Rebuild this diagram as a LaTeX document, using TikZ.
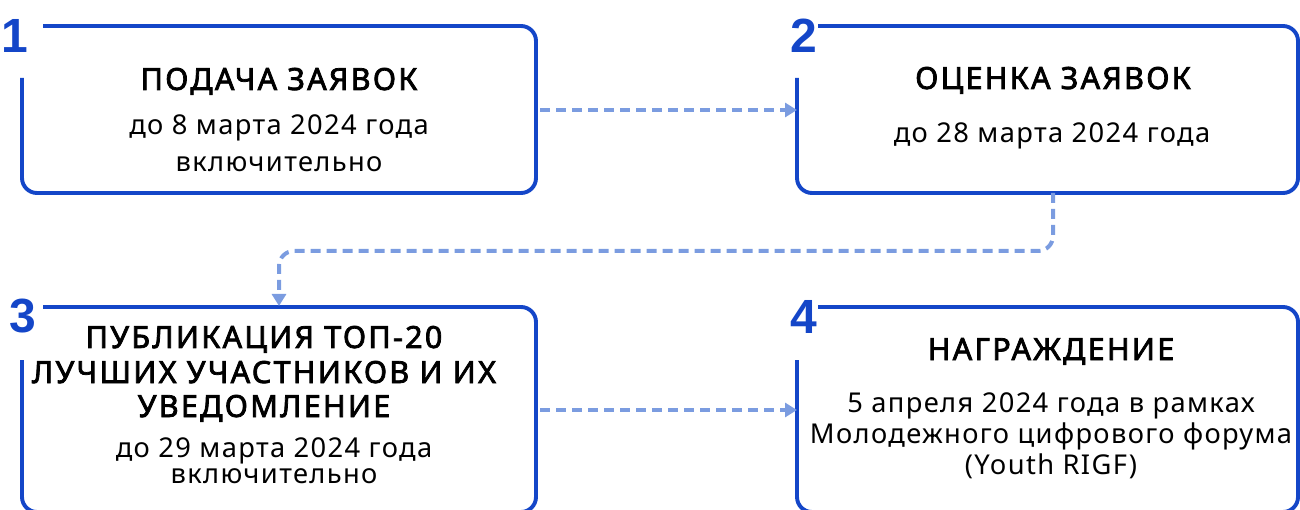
\documentclass[tikz,border=0pt]{standalone}
\usepackage{fontspec}
\setmainfont{Noto Sans}[LetterSpace=5]
\newfontfamily\titlefont{Noto Sans}[LetterSpace=7.5,FakeBold=2.5]
\newfontfamily\numfont{Liberation Sans}
\usetikzlibrary{arrows.meta}
\definecolor{boxblue}{HTML}{1446C8}
\definecolor{arrblue}{HTML}{7B9CE0}
\tikzset{
  boxline/.style={draw=boxblue, line width=3.9pt, rounded corners=15pt},
  flow/.style={draw=arrblue, line width=4pt, dash pattern=on 10pt off 6pt, rounded corners=15pt, -{Triangle[length=12pt,width=14pt]}},
  num/.style={text=boxblue, font=\numfont\bfseries\fontsize{48}{48}\selectfont, inner sep=0pt, anchor=base},
  ttl/.style={font=\titlefont\fontsize{30.5}{34}\selectfont, inner sep=0pt, anchor=base},
  body/.style={font=\fontsize{27.3}{31}\selectfont, inner sep=0pt, anchor=base}
}
\begin{document}
\begin{tikzpicture}[x=1pt,y=-1pt]
\useasboundingbox (0,0) rectangle (1300,510);
% boxes
\draw[boxline] (43,26) -- (536,26) -- (536,193) -- (22,193) -- (22,78);
\draw[boxline] (818,26) -- (1298,26) -- (1298,193) -- (797,193) -- (797,78);
\draw[boxline] (43,307) -- (536,307) -- (536,512) -- (22,512) -- (22,360);
\draw[boxline] (818,307) -- (1298,307) -- (1298,512) -- (797,512) -- (797,360);
% numbers
\node[num] (n1) at (15,53) {1};
\node[num] (n2) at (804,53) {2};
\node[num] (n3) at (23,333) {3};
\node[num] (n4) at (804,334) {4};
% texts
\node[ttl] (t1) at (279,90) {ПОДАЧА ЗАЯВОК};
\node[body] (b1a) at (279,135) {до 8 марта 2024 года};
\node[body] (b1b) at (279,172) {включительно};
\node[ttl] (t2) at (1053,89) {ОЦЕНКА ЗАЯВОК};
\node[body] (b2) at (1052,143) {до 28 марта 2024 года};
\node[ttl] (t3a) at (264,348) {ПУБЛИКАЦИЯ ТОП-20};
\node[ttl] (t3b) at (264,383) {ЛУЧШИХ УЧАСТНИКОВ И ИХ};
\node[ttl] (t3c) at (264,417) {УВЕДОМЛЕНИЕ};
\node[body] (b3a) at (274,457) {до 29 марта 2024 года};
\node[body] (b3b) at (274,483) {включительно};
\node[ttl] (t4) at (1051,360) {НАГРАЖДЕНИЕ};
\node[body] (b4a) at (1051,412) {5 апреля 2024 года в рамках};
\node[body] (b4b) at (1051,443) {Молодежного цифрового форума};
\node[body] (b4c) at (1051,474) {(Youth RIGF)};
% anchors for connectors
\coordinate (a1s) at (540,110);
\coordinate (a1e) at (797,110);
\coordinate (a2s) at (1053,193);
\coordinate (a2e) at (279,306);
\coordinate (a3s) at (540,410);
\coordinate (a3e) at (797,410);
\draw[flow] (a1s) -- (a1e);
\draw[flow] (a2s) -- (1053,251) -- (279,251) -- (a2e);
\draw[flow] (a3s) -- (a3e);
\end{tikzpicture}
\end{document}
